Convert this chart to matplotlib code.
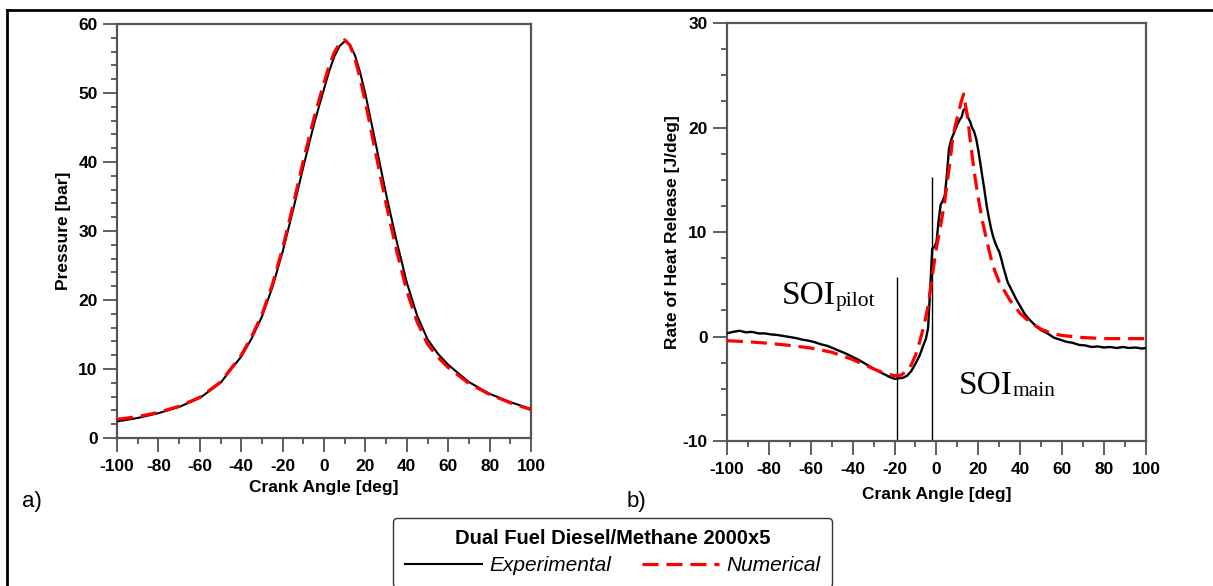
import matplotlib
matplotlib.use("Agg")
import matplotlib.pyplot as plt
from matplotlib.lines import Line2D
from matplotlib.ticker import MultipleLocator

plt.rcParams['font.family'] = ['Liberation Sans', 'DejaVu Sans']
plt.rcParams['axes.unicode_minus'] = False

# a) cylinder pressure [bar] vs crank angle [deg]
p_angle = [-100, -90, -80, -70, -60, -50, -40, -35, -30, -25, -20, -15, -10, -5, -2.5, 0,
           2.5, 5, 7.5, 10, 12.5, 15, 17.5, 20, 25, 30, 35, 40, 45, 50, 55, 60, 70, 80, 90, 100]
p_exp = [2.4, 2.9, 3.6, 4.5, 5.8, 8.0, 11.8, 14.4, 17.6, 21.8, 27.0, 33.0, 39.3, 45.3, 48.0,
         50.6, 53.2, 55.3, 56.8, 57.5, 57.0, 55.4, 52.9, 49.8, 42.6, 35.3, 28.6, 22.5, 17.7,
         14.3, 12.2, 10.6, 8.1, 6.4, 5.2, 4.2]
p_num = [2.7, 3.1, 3.7, 4.6, 5.9, 8.1, 12.0, 14.7, 17.9, 22.2, 27.5, 33.7, 40.2, 46.2, 48.9,
         51.5, 54.0, 55.9, 57.2, 57.7, 56.9, 54.9, 52.0, 48.6, 41.2, 33.9, 27.2, 21.3, 16.8,
         13.6, 11.7, 10.2, 7.9, 6.3, 5.1, 4.1]

# b) rate of heat release [J/deg]
r_exp_angle = [-100, -97, -94, -91, -88, -85, -82, -79, -76, -73, -70, -67, -64, -61, -58,
               -55, -52, -49, -46, -43, -40, -37, -34, -31, -28, -25, -22, -20, -18, -16,
               -14, -12, -10, -8, -6, -5, -4, -3, -2, -1, 0, 1, 2, 3, 4, 5, 6, 7, 8, 9, 10,
               11, 12, 13, 14, 15, 16, 17, 18, 19, 20, 21, 22, 23, 24, 25, 26, 27, 28, 29,
               30, 31, 32, 33, 34, 36, 38, 40, 42, 44, 46, 48, 50, 53, 56, 59, 62, 65, 68,
               71, 74, 77, 80, 83, 86, 89, 92, 95, 98, 100]
r_exp = [0.30, 0.45, 0.55, 0.40, 0.45, 0.30, 0.30, 0.20, 0.15, 0.05, -0.05, -0.15, -0.30,
         -0.40, -0.55, -0.75, -0.90, -1.15, -1.40, -1.65, -1.95, -2.25, -2.60, -2.95, -3.30,
         -3.60, -3.90, -4.05, -4.00, -3.95, -3.75, -3.30, -2.60, -1.80, -0.70, -0.20, 0.80,
         4.50, 8.40, 8.60, 9.00, 11.00, 12.60, 13.00, 13.50, 15.50, 18.00, 18.80, 19.30,
         19.80, 20.30, 20.70, 21.00, 21.70, 21.80, 21.00, 20.60, 20.00, 19.60, 18.90, 17.80,
         16.50, 15.20, 13.90, 12.50, 11.40, 10.40, 9.60, 9.00, 8.50, 8.10, 7.40, 6.60, 5.90,
         5.20, 4.40, 3.60, 2.90, 2.20, 1.70, 1.30, 0.90, 0.60, 0.30, -0.10, -0.30, -0.50,
         -0.60, -0.80, -0.85, -1.00, -0.95, -1.05, -1.00, -1.10, -1.00, -1.10, -1.05, -1.15,
         -1.10]
r_num_angle = [-100, -90, -80, -70, -60, -50, -40, -30, -25, -20, -17, -14, -12, -10, -8,
               -6, -4, -2, 0, 2, 4, 6, 8, 10, 12, 13, 14, 15, 16, 18, 20, 22, 24, 26, 28,
               30, 35, 40, 45, 50, 55, 60, 70, 80, 90, 100]
r_num = [-0.40, -0.50, -0.65, -0.85, -1.10, -1.50, -2.20, -3.10, -3.50, -3.75, -3.70, -3.30,
         -2.70, -1.80, -0.50, 1.00, 2.90, 5.80, 8.50, 10.60, 13.00, 16.00, 19.30, 21.00,
         22.60, 23.20, 22.00, 20.80, 19.00, 15.80, 13.20, 11.00, 9.20, 7.50, 6.20, 5.20,
         3.50, 2.20, 1.30, 0.70, 0.30, 0.10, -0.10, -0.20, -0.20, -0.20]

# start of injection markers: angle, top of marker line
soi_angle = [-18.9, -2.3]
soi_top = [5.7, 15.3]

SPINE = '#555555'
TICK = '#444444'
FS = 12.5


def style_axes(ax, ymin, ymax, ymajor, yminor):
    ax.set_xlim(-100, 100)
    ax.set_ylim(ymin, ymax)
    ax.xaxis.set_major_locator(MultipleLocator(20))
    ax.xaxis.set_minor_locator(MultipleLocator(10))
    ax.yaxis.set_major_locator(MultipleLocator(ymajor))
    ax.yaxis.set_minor_locator(MultipleLocator(yminor))
    for s in ax.spines.values():
        s.set_color(SPINE)
        s.set_linewidth(1.6)
    ax.tick_params(which='both', direction='out', color=TICK, width=1.2)
    ax.tick_params(which='major', length=10, labelsize=FS)
    ax.tick_params(which='minor', length=4.5)
    ax.tick_params(axis='y', pad=4)
    ax.tick_params(axis='x', pad=5)
    for lab in ax.get_xticklabels() + ax.get_yticklabels():
        lab.set_fontweight('bold')
    ax.set_xlabel('Crank Angle [deg]', fontsize=FS, fontweight='bold')


fig = plt.figure(figsize=(12.13, 5.86), dpi=100)
ax1 = fig.add_axes([0.0965, 0.2526, 0.3413, 0.7065])
ax2 = fig.add_axes([0.5993, 0.2474, 0.3454, 0.7133])

ax1.plot(p_angle, p_exp, color='black', lw=1.5, label='Experimental', zorder=3)
ax1.plot(p_angle, p_num, color='#ff0000', lw=2.3, dashes=(5, 2.5), label='Numerical', zorder=4)
style_axes(ax1, 0, 60, 10, 2)
ax1.set_ylabel('Pressure [bar]', fontsize=FS, fontweight='bold')
ax1.yaxis.set_label_coords(-0.112, 0.5)
ax1.xaxis.set_label_coords(0.5, -0.101)

ax2.plot(r_exp_angle, r_exp, color='black', lw=1.7, zorder=3)
ax2.plot(r_num_angle, r_num, color='#ff0000', lw=2.3, dashes=(5, 2.5), zorder=4)
ax2.vlines(soi_angle, [-10, -10], soi_top, color='black', lw=1.0, zorder=2)
style_axes(ax2, -10, 30, 10, 2.5)
ax2.set_ylabel('Rate of Heat Release [J/deg]', fontsize=FS, fontweight='bold')
ax2.yaxis.set_label_coords(-0.112, 0.5)
ax2.xaxis.set_label_coords(0.5, -0.110)

# SOI annotations in serif with small subscript
for (x, y, sub) in [(-73.7, 3.1, 'pilot'), (10.7, -5.5, 'main')]:
    t = ax2.text(x, y, 'SOI', fontsize=24, family='Liberation Serif', va='baseline')
    ax2.annotate(sub, xy=(1, 0), xycoords=t, fontsize=15.5,
                 family='Liberation Serif', va='bottom', ha='left')

fig.text(22 / 1213, 1 - 502 / 586, 'a)', fontsize=16, va='center', ha='left')
fig.text(627 / 1213, 1 - 502 / 586, 'b)', fontsize=16, va='center', ha='left')

# outer frame (top and left edges visible)
fig.add_artist(Line2D([7 / 1213, 1.0], [1 - 10 / 586, 1 - 10 / 586], color='black', lw=2.0))
fig.add_artist(Line2D([7 / 1213, 7 / 1213], [0, 1 - 10 / 586], color='black', lw=2.0))

handles, labels = ax1.get_legend_handles_labels()
leg = fig.legend(handles, labels, loc='center', bbox_to_anchor=(0.505, 0.0575), ncol=2,
                 title='Dual Fuel Diesel/Methane 2000x5',
                 title_fontproperties={'weight': 'bold', 'size': 14.5},
                 prop={'style': 'italic', 'size': 15}, handlelength=3.7,
                 handletextpad=0.35, columnspacing=1.5, borderpad=0.55,
                 labelspacing=0.1, fancybox=True, framealpha=1)
leg.get_frame().set_edgecolor('#333333')
leg.get_frame().set_linewidth(1.0)
leg._legend_box.sep = 6

fig.savefig('out.png', dpi=100)
